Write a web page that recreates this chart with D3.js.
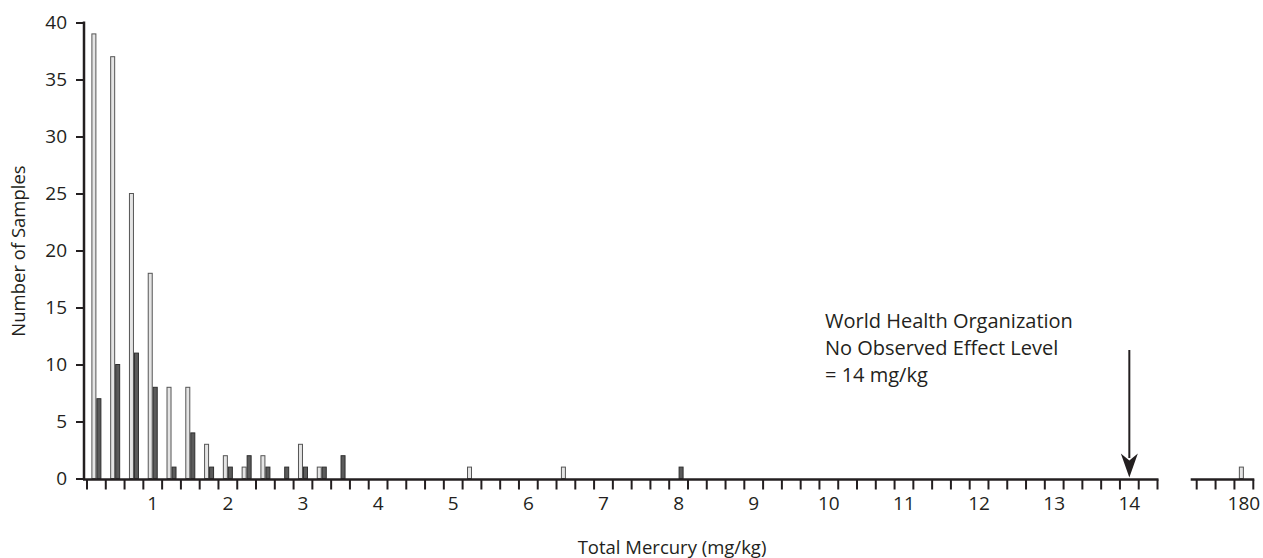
<!DOCTYPE html>
<html>
<head>
<meta charset="utf-8">
<script src="https://cdn.jsdelivr.net/npm/d3@7"></script>
<style>
  body { margin: 0; background: #fff; }
  text { font-family: "Open Sans", sans-serif; fill: #231f20; }
</style>
</head>
<body>
<svg id="chart" width="1263" height="558"></svg>
<script>
// bins are 0.25 mg/kg wide, numbered from 0 (0–0.25) to 56 (14–14.25)
const mainBins = d3.range(57)
const lightCounts = [
  39, 37, 25, 18, 8, 8, 3, 2, 1, 2, 0, 3, 1, 0, 0, 0, 0, 0, 0, 0,
  1, 0, 0, 0, 0, 1, 0, 0, 0, 0, 0, 0, 0, 0, 0, 0, 0, 0, 0, 0,
  0, 0, 0, 0, 0, 0, 0, 0, 0, 0, 0, 0, 0, 0, 0, 0, 0,
]
const darkCounts = [
  7, 10, 11, 8, 1, 4, 1, 1, 2, 1, 1, 1, 1, 2, 0, 0, 0, 0, 0, 0,
  0, 0, 0, 0, 0, 0, 0, 0, 0, 0, 0, 1, 0, 0, 0, 0, 0, 0, 0, 0,
  0, 0, 0, 0, 0, 0, 0, 0, 0, 0, 0, 0, 0, 0, 0, 0, 0,
]
// tick label sits under the bin whose upper edge equals it
const xTickLabels = ['1', '2', '3', '4', '5', '6', '7', '8', '9', '10', '11', '12', '13', '14']

// broken-off part of the axis
const breakBins = [0, 1, 2]
const breakLabels = ['', '', '180']
const breakLight = [0, 0, 1]
const breakDark = [0, 0, 0]

const yTicks = [0, 5, 10, 15, 20, 25, 30, 35, 40]
const whoLevel = '14'
const noteLines = ['World Health Organization', 'No Observed Effect Level', '= 14 mg/kg']

const ink = '#231f20'
const axisY = 479.5

const svg = d3.select('#chart')

const y = d3.scaleLinear().domain([0, 40]).range([478.5, 22.5])
const xMain = d3.scaleBand().domain(mainBins).range([87, 1157.5])
const xBreak = d3.scaleBand().domain(breakBins).range([1196.7, 1253.3])
const pair = d3.scaleBand().domain(['light', 'dark']).range([0, 10])

function drawBars(scale, bins, light, dark) {
  const off = (scale.bandwidth() - 10) / 2
  const rows = []
  bins.forEach((b, i) => {
    if (light[i] > 0) rows.push({ bin: b, series: 'light', v: light[i] })
    if (dark[i] > 0) rows.push({ bin: b, series: 'dark', v: dark[i] })
  })
  svg.append('g')
    .selectAll('rect')
    .data(rows)
    .join('rect')
    .attr('x', (d) => scale(d.bin) + off + pair(d.series) + 0.5)
    .attr('y', (d) => y(d.v))
    .attr('width', pair.bandwidth() - 1)
    .attr('height', (d) => y(0) - y(d.v))
    .attr('fill', (d) => (d.series === 'light' ? '#e4e4e4' : '#5b5b5b'))
    .attr('stroke', (d) => (d.series === 'light' ? '#555' : '#2e2e2e'))
    .attr('stroke-width', 1)
}

drawBars(xMain, mainBins, lightCounts, darkCounts)
drawBars(xBreak, breakBins, breakLight, breakDark)

// y axis
const yAxis = svg.append('g')
  .attr('transform', 'translate(84,0)')
  .call(d3.axisLeft(y).tickValues(yTicks).tickSize(8).tickSizeOuter(0).tickPadding(9))
yAxis.select('.domain').remove()
yAxis.selectAll('line').attr('stroke', ink).attr('stroke-width', 2)
yAxis.selectAll('text').attr('font-size', 19).attr('font-family', '"Open Sans", sans-serif').attr('fill', ink)
svg.append('line')
  .attr('x1', 84).attr('x2', 84)
  .attr('y1', y(40) - 1).attr('y2', axisY)
  .attr('stroke', ink).attr('stroke-width', 2.5)

// x axis: tick marks at bin edges, labels at bin centres
function edgeTicks(scale, bins) {
  const edges = bins.map((b) => scale(b)).concat([scale(bins[bins.length - 1]) + scale.bandwidth()])
  svg.append('g')
    .selectAll('line')
    .data(edges)
    .join('line')
    .attr('x1', (d) => d).attr('x2', (d) => d)
    .attr('y1', axisY).attr('y2', axisY + 10)
    .attr('stroke', ink).attr('stroke-width', 2)
}
edgeTicks(xMain, mainBins)
edgeTicks(xBreak, breakBins)

svg.append('line')
  .attr('x1', 83).attr('x2', xMain.range()[1] + 1)
  .attr('y1', axisY).attr('y2', axisY)
  .attr('stroke', ink).attr('stroke-width', 2.5)
svg.append('line')
  .attr('x1', xBreak.range()[0] - 6).attr('x2', xBreak.range()[1] + 1)
  .attr('y1', axisY).attr('y2', axisY)
  .attr('stroke', ink).attr('stroke-width', 2.5)

const labelBin = (t) => +t * 4 - 1
const mainLabelAxis = svg.append('g')
  .attr('transform', `translate(0,${axisY})`)
  .call(d3.axisBottom(xMain)
    .tickValues(xTickLabels.map(labelBin))
    .tickFormat((b) => String((b + 1) / 4))
    .tickSize(0).tickPadding(17))
const breakLabelAxis = svg.append('g')
  .attr('transform', `translate(0,${axisY})`)
  .call(d3.axisBottom(xBreak)
    .tickValues(breakBins.filter((b, i) => breakLabels[i]))
    .tickFormat((b) => breakLabels[b])
    .tickSize(0).tickPadding(17))
;[mainLabelAxis, breakLabelAxis].forEach((g) => {
  g.select('.domain').remove()
  g.selectAll('text').attr('font-size', 19).attr('font-family', '"Open Sans", sans-serif').attr('fill', ink)
})

// axis titles
svg.append('text')
  .attr('x', 672).attr('y', 554)
  .attr('text-anchor', 'middle')
  .attr('font-size', 18.5)
  .text('Total Mercury (mg/kg)')
svg.append('text')
  .attr('transform', 'translate(25,251) rotate(-90)')
  .attr('text-anchor', 'middle')
  .attr('font-size', 18.5)
  .text('Number of Samples')

// WHO annotation
svg.append('g')
  .selectAll('text')
  .data(noteLines)
  .join('text')
  .attr('x', 825)
  .attr('y', (d, i) => 328 + i * 27)
  .attr('font-size', 20)
  .text((d) => d)

const ax = xMain(labelBin(whoLevel)) + xMain.bandwidth() / 2
svg.append('line')
  .attr('x1', ax).attr('x2', ax)
  .attr('y1', 350).attr('y2', 458)
  .attr('stroke', ink).attr('stroke-width', 2)
svg.append('path')
  .attr('d', `M${ax},${axisY - 2} L${ax - 8.5},${axisY - 26} L${ax},${axisY - 19} L${ax + 8.5},${axisY - 26} Z`)
  .attr('fill', ink)
</script>
</body>
</html>
